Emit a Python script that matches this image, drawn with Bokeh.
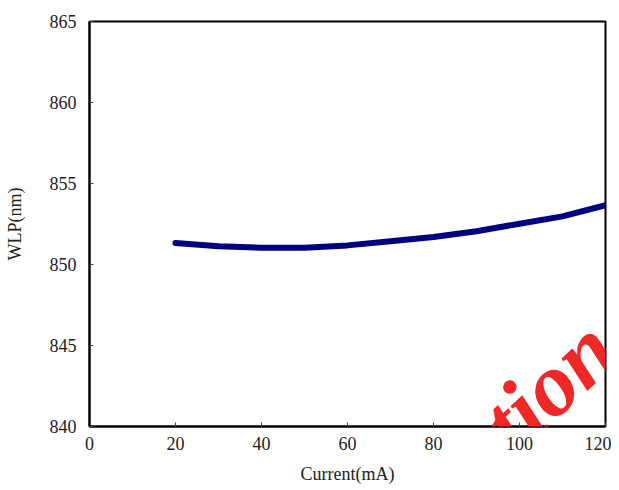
from bokeh.plotting import figure
from bokeh.models import Label, FixedTicker, Range1d
from bokeh.embed import file_html
from bokeh.resources import INLINE

current = [20, 30, 40, 50, 60, 70, 80, 90, 100, 110, 120]
wlp = [851.33, 851.12, 851.04, 851.04, 851.18, 851.44, 851.70, 852.05, 852.52, 852.97, 853.66]
x_ticks = [0, 20, 40, 60, 80, 100, 120]
y_ticks = [840, 845, 850, 855, 860, 865]

FONT = "Liberation Serif"

p = figure(width=611, height=489, output_backend="svg", toolbar_location=None,
           x_range=Range1d(0, 120), y_range=Range1d(840, 865),
           min_border_left=89, min_border_right=6, min_border_top=21, min_border_bottom=63)
p.background_fill_color = "white"
p.border_fill_color = "white"
p.outline_line_color = "black"
p.outline_line_width = 2
p.xgrid.visible = False
p.ygrid.visible = False

p.line(current, wlp, line_color="#000080", line_width=6, line_cap="round", line_join="round")

for ax in (p.xaxis[0], p.yaxis[0]):
    ax.axis_line_color = "black"
    ax.axis_line_width = 2
    ax.major_tick_in = 4
    ax.major_tick_out = 0
    ax.minor_tick_in = 0
    ax.minor_tick_out = 0
    ax.major_tick_line_color = "#444444"
    ax.major_label_text_font = FONT
    ax.major_label_text_font_size = "18px"
    ax.major_label_text_color = "#222222"
    ax.axis_label_text_font = FONT
    ax.axis_label_text_font_size = "18px"
    ax.axis_label_text_font_style = "normal"
    ax.axis_label_text_color = "#222222"

p.xaxis.ticker = FixedTicker(ticks=x_ticks)
p.yaxis.ticker = FixedTicker(ticks=y_ticks)
p.xaxis.major_label_standoff = 10
p.yaxis.major_label_standoff = 13
p.xaxis.axis_label = "Current(mA)"
p.yaxis.axis_label = "WLP(nm)"
p.xaxis.axis_label_standoff = 11
p.yaxis.axis_label_standoff = 22

wm = Label(x=344, y=-66, x_units="screen", y_units="screen", text="cation",
           text_font=FONT, text_font_size="90px", level="overlay",
           text_font_style="bold italic", text_color="#f02828", angle=0.75,
           text_baseline="alphabetic", text_align="left")
p.add_layout(wm)

open("out.html", "w").write(file_html(p, INLINE))
